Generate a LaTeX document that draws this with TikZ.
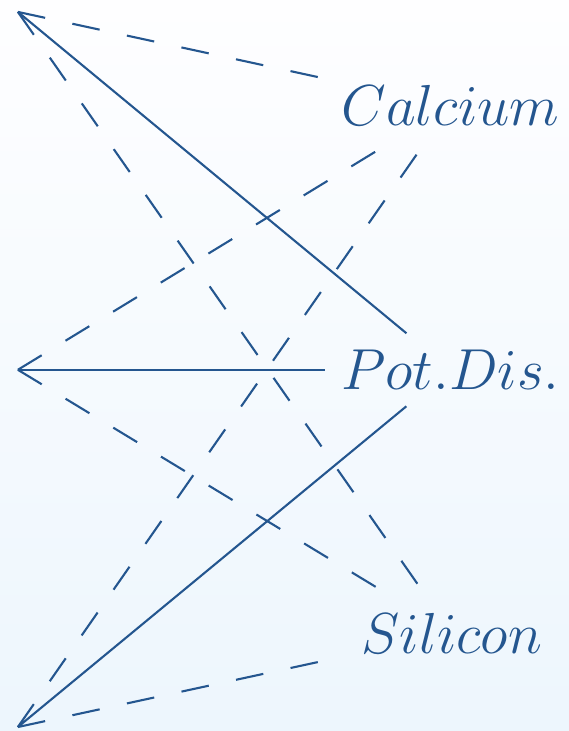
\documentclass[tikz,border=0pt]{standalone}
\definecolor{linkBlue}{HTML}{24568F}
\definecolor{bgTop}{HTML}{FEFEFF}
\definecolor{bgBottom}{HTML}{EDF6FD}
\tikzset{
  label/.style={text=linkBlue, font=\Huge, inner sep=7pt},
  lineS/.style={linkBlue, line width=0.9pt},
  lineD/.style={lineS, dash pattern=on 12pt off 12pt},
}
\begin{document}
\begin{tikzpicture}
        \useasboundingbox (0,0) rectangle (8.6,11.05);
        \shade[top color=bgTop, bottom color=bgBottom] (0,0) rectangle (8.6,11.05);
        % Punkte links
        \coordinate (top) at (0.27,10.87);
        \coordinate (mid) at (0.27,5.46);
        \coordinate (bot) at (0.27,0.06);
        % Beschriftungen rechts
        \node[label] (ca) at (6.81,9.45) {$Calcium$};
        \node[label] (pd) at (6.81,5.46) {$Pot.Dis.$};
        \node[label] (si) at (6.83,1.48) {$Silicon$};
        % Verbindungen
        \draw[lineD] (top) -- (ca);
        \draw[lineD] (mid) -- (ca);
        \draw[lineD] (bot) -- (ca);
        \draw[lineS] (top) -- (pd);
        \draw[lineS] (mid) -- (pd);
        \draw[lineS] (bot) -- (pd);
        \draw[lineD] (top) -- (si);
        \draw[lineD] (mid) -- (si);
        \draw[lineD] (bot) -- (si);
      \end{tikzpicture}
\end{document}
